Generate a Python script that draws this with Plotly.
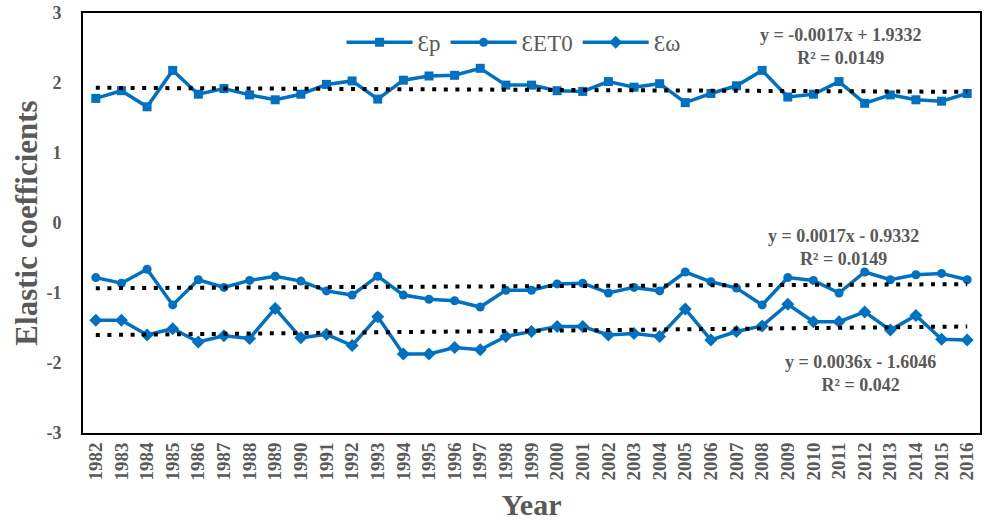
import plotly.graph_objects as go

years = list(range(1982, 2017))

eps_p = [1.78, 1.89, 1.66, 2.18, 1.84, 1.92, 1.83, 1.76, 1.84, 1.98, 2.03, 1.77,
         2.04, 2.10, 2.11, 2.21, 1.97, 1.97, 1.89, 1.88, 2.02, 1.94, 1.99, 1.72,
         1.85, 1.96, 2.18, 1.80, 1.84, 2.02, 1.71, 1.83, 1.76, 1.74, 1.85]

eps_et0 = [-0.78, -0.86, -0.66, -1.17, -0.81, -0.92, -0.82, -0.76, -0.83, -0.97, -1.03, -0.76,
           -1.03, -1.09, -1.11, -1.20, -0.96, -0.96, -0.87, -0.86, -1.00, -0.92, -0.97, -0.70,
           -0.84, -0.93, -1.17, -0.78, -0.82, -1.00, -0.70, -0.81, -0.74, -0.72, -0.81]

eps_w = [-1.39, -1.39, -1.60, -1.51, -1.70, -1.61, -1.65, -1.22, -1.64, -1.59, -1.75, -1.34,
         -1.87, -1.87, -1.78, -1.81, -1.62, -1.55, -1.48, -1.48, -1.60, -1.58, -1.62, -1.23,
         -1.67, -1.55, -1.47, -1.16, -1.41, -1.41, -1.27, -1.53, -1.32, -1.66, -1.67]

series_names = ["Ɛp", "ƐET0", "Ɛω"]
trend_slopes = [-0.0017, 0.0017, 0.0036]
trend_intercepts = [1.9332, -0.9332, -1.6046]
trend_r2 = ["0.0149", "0.0149", "0.042"]
trend_eq = ["y = -0.0017x + 1.9332", "y = 0.0017x - 0.9332", "y = 0.0036x - 1.6046"]

y_ticks = [-3, -2, -1, 0, 1, 2, 3]

BLUE = "#0070C0"
GRAY = "#595959"
FONT = "Liberation Serif"

fig = go.Figure()

symbols = ["square", "circle", "diamond"]
sizes = [9, 9, 10]
for name, vals, sym, sz in zip(series_names, [eps_p, eps_et0, eps_w], symbols, sizes):
    fig.add_trace(go.Scatter(
        x=years, y=vals, name=name, mode="lines+markers",
        line=dict(color=BLUE, width=3.5),
        marker=dict(symbol=sym, size=sz, color=BLUE),
    ))

idx = list(range(1, len(years) + 1))
for a, b in zip(trend_slopes, trend_intercepts):
    fig.add_trace(go.Scatter(
        x=years, y=[a * i + b for i in idx], mode="lines", showlegend=False,
        line=dict(color="black", width=4, dash="4px,7.6px"),
        hoverinfo="skip",
    ))

# equation annotations (pixel centre of first line)
ann_pos = [(843, 35), (845, 236), (862, 362)]
for (px, py), eq, r2 in zip(ann_pos, trend_eq, trend_r2):
    fig.add_annotation(
        xref="paper", yref="paper",
        x=(px - 83) / 899, y=(433 - (py - 12)) / 420,
        xanchor="center", yanchor="top",
        text=f"<b>{eq}</b><br><b>R² = {r2}</b>",
        showarrow=False, align="center",
        font=dict(family=FONT, size=18, color=GRAY),
    )

fig.update_layout(
    width=984, height=526,
    margin=dict(l=83, r=2, t=13, b=93),
    plot_bgcolor="white", paper_bgcolor="white",
    font=dict(family=FONT, color=GRAY),
    showlegend=True,
    legend=dict(
        orientation="h", x=0.48, y=0.93, xanchor="center", yanchor="middle",
        font=dict(family=FONT, size=23, color=GRAY),
        bgcolor="rgba(0,0,0,0)", itemwidth=66,
    ),
    xaxis=dict(
        range=[1981.5, 2016.5], tickmode="array", tickvals=years,
        ticktext=[f"<b>{y}</b>" for y in years], tickangle=-90,
        tickfont=dict(family=FONT, size=19, color=GRAY),
        showgrid=False, zeroline=False, showline=True, linecolor="black",
        linewidth=2, mirror=True, ticks="",
        title=dict(text="<b>Year</b>", font=dict(family=FONT, size=30, color=GRAY), standoff=14),
    ),
    yaxis=dict(
        range=[-3, 3], tickmode="array", tickvals=y_ticks,
        ticktext=[f"<b>{v}</b>" for v in y_ticks],
        tickfont=dict(family=FONT, size=18, color=GRAY),
        showgrid=False, zeroline=False, showline=True, linecolor="black",
        linewidth=2, mirror=True, ticks="", ticklabelstandoff=16,
        title=dict(text="<b>Elastic coefficients</b>", font=dict(family=FONT, size=31, color=GRAY), standoff=0),
    ),
)

fig.write_html("out.html")
